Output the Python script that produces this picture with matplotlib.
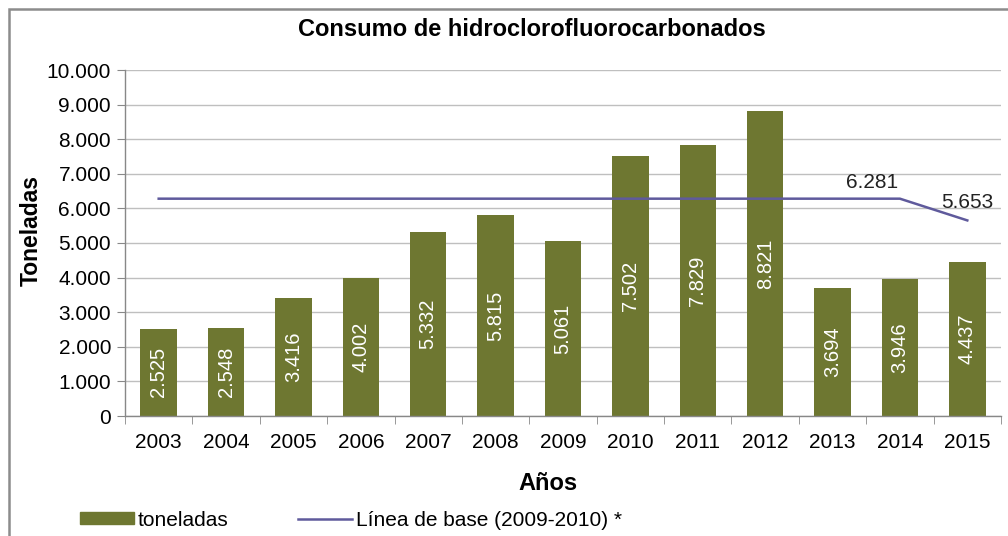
import matplotlib
matplotlib.use("Agg")
import matplotlib.pyplot as plt
from matplotlib.patches import Rectangle, Patch
from matplotlib.lines import Line2D
import numpy as np

years = ["2003", "2004", "2005", "2006", "2007", "2008", "2009",
         "2010", "2011", "2012", "2013", "2014", "2015"]
toneladas = [2525, 2548, 3416, 4002, 5332, 5815, 5061,
             7502, 7829, 8821, 3694, 3946, 4437]
linea_base = [6281, 6281, 6281, 6281, 6281, 6281, 6281,
              6281, 6281, 6281, 6281, 6281, 5653]
yticks = [0, 1000, 2000, 3000, 4000, 5000, 6000, 7000, 8000, 9000, 10000]
ytick_labels = ["0", "1.000", "2.000", "3.000", "4.000", "5.000", "6.000",
                "7.000", "8.000", "9.000", "10.000"]
bar_labels = ["2.525", "2.548", "3.416", "4.002", "5.332", "5.815", "5.061",
              "7.502", "7.829", "8.821", "3.694", "3.946", "4.437"]

plt.rcParams['font.family'] = ['Liberation Sans', 'DejaVu Sans']

BAR = "#6E7731"
LINE = "#5F5A9C"
GRID = "#BFBFBF"
AX = "#888888"

fig = plt.figure(figsize=(10.08, 5.36), dpi=100)
fig.patch.set_facecolor("white")
# outer chart border (left and top visible)
fig.patches.append(Rectangle((9/1008, -0.05), 1.2, (536-9)/536 + 0.05,
                             transform=fig.transFigure, fill=False,
                             edgecolor="#8C8C8C", linewidth=1.8))

ax = fig.add_axes([125/1008, 1-416/536, (1001-125)/1008, (416-70)/536])
x = np.arange(len(years))
ax.bar(x, toneladas, width=0.54, color=BAR, zorder=2)
ax.plot(x, linea_base, color=LINE, linewidth=1.8, zorder=3)

for xi, v, lab in zip(x, toneladas, bar_labels):
    ax.text(xi, v/2, lab, rotation=90, ha="center", va="center",
            color="white", fontsize=14.5, zorder=4)

ax.text(x[-2] - 0.42, linea_base[-2] + 180, "6.281", ha="center", va="bottom",
        fontsize=15, color="#222222")
ax.text(x[-1], linea_base[-1] + 230, "5.653", ha="center", va="bottom",
        fontsize=15, color="#222222")

ax.set_xlim(-0.5, len(years) - 0.5)
ax.set_ylim(0, 10000)
ax.set_yticks(yticks)
ax.set_yticklabels(ytick_labels, fontsize=15)
ax.set_xticks(x)
ax.set_xticklabels(years, fontsize=15)
ax.set_xticks(np.arange(-0.5, len(years), 1), minor=True)
ax.tick_params(axis="x", which="major", length=0, pad=12)
ax.tick_params(axis="x", which="minor", length=6, color=AX, direction="out")
ax.tick_params(axis="y", length=6, color=AX, direction="out", pad=4)
ax.yaxis.grid(True, color=GRID, linewidth=1, zorder=0)
ax.set_axisbelow(True)
for s in ["top", "right"]:
    ax.spines[s].set_visible(False)
for s in ["left", "bottom"]:
    ax.spines[s].set_color(AX)
    ax.spines[s].set_linewidth(1)

fig.text(31/1008, 1-231/536, "Toneladas", rotation=90, ha="center",
         va="center", fontsize=16.5, fontweight="bold")
fig.text(548/1008, 1-483/536, "Años", ha="center", va="center",
         fontsize=17, fontweight="bold")
fig.text(532/1008, 1-30/536, "Consumo de hidroclorofluorocarbonados",
         ha="center", va="center", fontsize=17, fontweight="bold")

handles = [Patch(facecolor=BAR, edgecolor=BAR),
           Line2D([0], [0], color=LINE, linewidth=1.8)]
fig.legend(handles, ["toneladas", "Línea de base (2009-2010) *"],
           loc="center left", bbox_to_anchor=(61/1008, 1-520/536),
           ncol=2, frameon=False, fontsize=15, handlelength=2.6,
           handleheight=0.45, handletextpad=0.2, columnspacing=3.3)

fig.savefig("out.png", dpi=100)
